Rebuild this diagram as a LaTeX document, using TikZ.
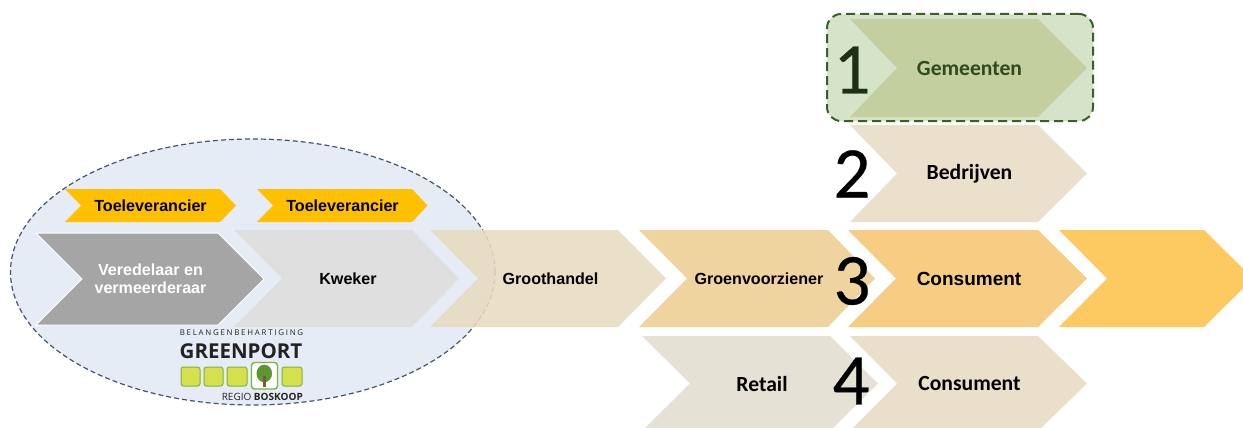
\documentclass[tikz,border=0pt]{standalone}
\usepackage{fontspec}
\setmainfont{Liberation Sans}
\newfontfamily\calfont{Carlito}
\newfontfamily\numfont[FakeBold=0.4]{Carlito}
\newfontfamily\logofont{Open Sans}
\newfontfamily\logospaced[LetterSpace=22]{Open Sans}
\usetikzlibrary{shapes.geometric}
\definecolor{ellfill}{HTML}{E6ECF6}
\definecolor{elledge}{HTML}{44546A}
\definecolor{darkgrey}{HTML}{A5A5A5}
\definecolor{lightgrey}{HTML}{DFDFDF}
\definecolor{gold}{HTML}{FFC000}
\definecolor{sandA}{HTML}{E8DCC0}
\definecolor{sandB}{HTML}{EFD49F}
\definecolor{sandC}{HTML}{F6CD82}
\definecolor{sandD}{HTML}{FDC961}
\definecolor{sandE}{HTML}{EBE0CC}
\definecolor{greyE}{HTML}{E6E1D5}
\definecolor{sandF}{HTML}{EAE0CA}
\definecolor{boxgreen}{HTML}{D5E3C8}
\definecolor{boxedge}{HTML}{38602B}
\definecolor{chevgreen}{HTML}{C3CF9E}
\definecolor{textgreen}{HTML}{2F4A1F}
\definecolor{numgreen}{HTML}{1D3015}
\definecolor{lime}{HTML}{D6DF4C}
\definecolor{limeedge}{HTML}{7FB239}
\definecolor{treegreen}{HTML}{5F9631}
\definecolor{trunk}{HTML}{7B5A3C}
\definecolor{logotext}{HTML}{222222}
\tikzset{
  chevlabel/.style={font=\bfseries\fontsize{16.1}{18.5}\selectfont,text=black,align=center,inner sep=0pt},
  bigchevlabel/.style={font=\bfseries\fontsize{19}{22}\selectfont,text=black,align=center,inner sep=0pt},
  callabel/.style={font=\calfont\bfseries\fontsize{21.6}{24}\selectfont,text=black,align=center,inner sep=0pt},
  numeral/.style={font=\numfont\fontsize{73}{78}\selectfont,text=black,inner sep=0pt},
  limebox/.style={fill=lime,draw=limeedge,line width=1pt,rounded corners=2.5pt},
}
% #1 left, #2 notch, #3 shoulder, #4 tip, #5 top, #6 bottom, #7 style
\newcommand{\chev}[7]{%
  \path[#7] (#1,#5) -- (#3,#5) -- (#4,{(#5+#6)/2}) -- (#3,#6) -- (#1,#6) -- (#2,{(#5+#6)/2}) -- cycle;}
\begin{document}
\begin{tikzpicture}[x=1pt,y=-1pt]
\useasboundingbox (0,0) rectangle (1243,428);
\clip (0,0) rectangle (1243,428);
\fill[white] (0,0) rectangle (1243,428);
% oval
\node[ellipse,minimum width=484.5pt,minimum height=266pt,inner sep=0pt,fill=ellfill,draw=elledge,dash pattern=on 5pt off 3pt,line width=1.2pt] (oval) at (252.75,272) {};
% first row
\chev{36}{82}{218}{264}{233}{325}{fill=darkgrey,draw=white,line width=1pt}
\chev{234}{282}{412}{459}{230}{327}{fill=lightgrey}
\chev{430}{478}{618}{666}{230}{327}{fill=sandA,fill opacity=.88}
\chev{639}{687}{828}{875}{230}{327}{fill=sandB}
\chev{848}{896}{1038}{1087}{230}{327}{fill=sandC}
\chev{1059}{1107}{1204}{1253}{230}{327}{fill=sandD}
% suppliers
\chev{65}{81}{220}{236}{189}{222}{fill=gold}
\chev{257}{273}{412}{427.5}{189}{222}{fill=gold}
% municipalities
\node[rectangle,rounded corners=14pt,minimum width=266pt,minimum height=107pt,inner sep=0pt,fill=boxgreen,draw=boxedge,line width=2pt,dash pattern=on 9pt off 5pt] (box) at (960,67.5) {};
\chev{850}{897}{1038}{1087}{19}{117}{fill=chevgreen}
\chev{850}{897}{1038}{1087}{125}{222}{fill=sandE}
% bottom row
\chev{642}{690}{830}{878}{336}{431}{fill=greyE}
\chev{850}{897}{1038}{1087}{336}{431}{fill=sandF}
% labels
\node[chevlabel] (t1) at (150.5,205.5) {Toeleverancier};
\node[chevlabel] (t2) at (342.5,205.5) {Toeleverancier};
\node[chevlabel,text=white] (vered) at (150.5,278.5) {Veredelaar en\\vermeerderaar};
\node[chevlabel] (kweker) at (348,278.5) {Kweker};
\node[chevlabel] (groot) at (550.5,278.5) {Groothandel};
\node[chevlabel] (groen) at (759,278.5) {Groenvoorziener};
\node[bigchevlabel] (cons3) at (969,278.5) {Consument};
\node[callabel,text=textgreen] (gem) at (969.5,68) {Gemeenten};
\node[callabel] (bed) at (969.5,173.5) {Bedrijven};
\node[callabel] (retail) at (762,383.5) {Retail};
\node[callabel] (cons4) at (969.5,383.5) {Consument};
% numerals
\node[numeral,text=numgreen] (n1) at (852,70) {1};
\node[numeral] (n2) at (852,174) {2};
\node[numeral] (n3) at (852,281) {3};
\node[numeral] (n4) at (851,381) {4};
% logo
\node[inner sep=0pt,text=logotext,font=\logospaced\fontsize{7.9}{10}\selectfont] (belang) at (241.5,332.5) {BELANGENBEHARTIGING};
\node[inner sep=0pt,text=logotext,font=\logofont\bfseries\fontsize{20.5}{22}\selectfont] (greenport) at (241,351) {GREENPORT};
\path[limebox] (181,367) rectangle (200,386);
\path[limebox] (204,367) rectangle (223,386);
\path[limebox] (227,367) rectangle (247,386);
\path[fill=white,draw=limeedge,line width=1.4pt,rounded corners=3pt] (251.5,362.5) rectangle (277.5,389);
\path[limebox] (282,367) rectangle (302,386);
\fill[treegreen] (264.3,373.5) ellipse (7.8pt and 8.8pt);
\fill[trunk] (262.6,376) rectangle (266,387);
\node[inner sep=0pt,anchor=east,text=logotext,font=\logofont\fontsize{10}{12}\selectfont] (regio) at (303,397) {REGIO \textbf{BOSKOOP}};
\end{tikzpicture}
\end{document}
